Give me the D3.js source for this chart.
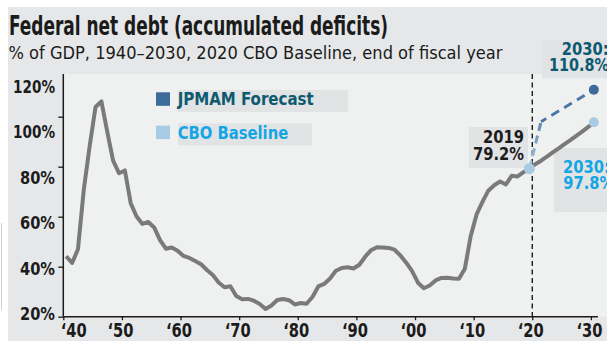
<!DOCTYPE html>
<html><head><meta charset="utf-8">
<script src="https://cdn.jsdelivr.net/npm/d3@7"></script>
<style>
body{margin:0;background:#fff}
svg{display:block}
text{font-family:"Liberation Sans Narrow","DejaVu Sans Condensed","Roboto Condensed",Roboto,"Liberation Sans",sans-serif;}
</style>
</head><body>
<svg id="c" width="607" height="341"></svg>
<script>
// ---------- data ----------
const title = "Federal net debt (accumulated deficits)";
const subtitle = "% of GDP, 1940\u20132030, 2020 CBO Baseline, end of fiscal year";
const histStart = 1940;
const histDebt = [44.2, 41.5, 47.0, 70.9, 88.3, 103.9, 106.1, 93.9, 82.4, 77.4,
  78.5, 65.4, 60.1, 57.1, 57.9, 55.7, 50.6, 47.2, 47.7, 46.4,
  44.3, 43.5, 42.3, 41.0, 38.7, 36.7, 33.7, 31.8, 32.2, 28.3,
  27.0, 27.1, 26.4, 25.1, 23.1, 24.5, 26.7, 27.1, 26.6, 24.9,
  25.5, 25.2, 27.9, 32.1, 33.1, 35.3, 38.4, 39.5, 39.8, 39.3,
  40.8, 44.0, 46.6, 47.8, 47.7, 47.5, 46.8, 44.5, 41.6, 38.2,
  33.6, 31.4, 32.5, 34.5, 35.5, 35.6, 35.3, 35.2, 39.2, 52.3,
  60.9, 65.9, 70.4, 72.6, 74.1, 72.9, 76.4, 76.1, 77.8, 79.2];
const cboYears = [2019, 2020, 2021, 2022, 2023, 2024, 2025, 2026, 2027, 2028, 2029, 2030];
const cboDebt  = [79.2, 81.0, 82.4, 84.0, 85.7, 87.3, 89.0, 90.6, 92.3, 94.0, 95.8, 97.8];
const jpYears = [2019, 2021, 2030];
const jpDebt  = [79.2, 98.0, 110.8];
const xTicks = [1940, 1950, 1960, 1970, 1980, 1990, 2000, 2010, 2020, 2030];
const yTicks = [20, 40, 60, 80, 100, 120];
const legendNames = ["JPMAM Forecast", "CBO Baseline"];

// ---------- setup ----------
const svg = d3.select("#c");
const C = {
  panel: "#e6e7e8", plot: "#eff1f1", box: "#e2e3e5",
  line: "#7a7a7a", jp: "#3d6c9b", jpText: "#0d5a70", cbo: "#a8cbe4", cboText: "#14a6e4", ink: "#1b1b1b"
};
const x = d3.scaleLinear().domain([1940, 2030]).range([63.3, 590.9]);
const y = d3.scaleLinear().domain([20, 120]).range([316.7, 66.7]);
const labelY = d3.scaleLinear().domain([20, 120]).range([313.3, 86]);
const plotTop = 74, plotBottom = y(20);
const fx = yr => x(yr + 0.5); // end of fiscal year

function fit(sel, w){ sel.attr("textLength", w).attr("lengthAdjust", "spacingAndGlyphs"); return sel; }

// backgrounds
svg.append("rect").attr("x", 8).attr("y", 7).attr("width", 599).attr("height", 334).attr("fill", C.panel);
svg.append("line").attr("x1", 1.5).attr("x2", 1.5).attr("y1", 223).attr("y2", 310).attr("stroke", "#d0d0d0");
svg.append("rect").attr("x", x(1940)).attr("y", plotTop).attr("width", 607 - x(1940)).attr("height", plotBottom - plotTop).attr("fill", C.plot);

// title
fit(svg.append("text").attr("x", 9).attr("y", 35).attr("font-size", 26).attr("font-weight", 700)
  .attr("fill", C.ink).text(title), 379);
fit(svg.append("text").attr("x", 8.5).attr("y", 59).attr("font-size", 18).attr("fill", C.ink).text(subtitle), 494);

// annotation boxes
svg.append("rect").attr("x", 542).attr("y", 40).attr("width", 65).attr("height", 38.5).attr("fill", C.box);
svg.append("rect").attr("x", 554).attr("y", 148).attr("width", 53).attr("height", 64).attr("fill", C.box);
svg.append("rect").attr("x", 469).attr("y", 127).attr("width", 59).attr("height", 41).attr("fill", C.box);

// legend
const legBoxW = [170, 134];
legendNames.forEach((name, i) => {
  const top = 90 + i * 33.3;
  svg.append("rect").attr("x", 178).attr("y", top).attr("width", legBoxW[i]).attr("height", 22).attr("fill", C.box);
  svg.append("rect").attr("x", 156).attr("y", top + 2.3).attr("width", 14).attr("height", 13.5)
    .attr("fill", i === 0 ? C.jp : C.cbo);
  fit(svg.append("text").attr("x", 177.7).attr("y", top + 15.3).attr("font-size", 18.5).attr("font-weight", 700)
    .attr("fill", i === 0 ? C.jpText : C.cboText).text(name), i === 0 ? 136 : 110.5);
});

// axes
const yAxis = svg.append("g").attr("transform", `translate(${x(1940)},0)`)
  .call(d3.axisLeft(y).tickValues(yTicks.filter(v => y(v) >= plotTop)).tickSize(5).tickFormat(""));
yAxis.select(".domain").remove();
yAxis.selectAll(".tick line").attr("stroke", C.ink).attr("stroke-width", 1.3);
svg.append("line").attr("x1", x(1940)).attr("x2", x(1940)).attr("y1", plotTop).attr("y2", plotBottom)
  .attr("stroke", C.ink).attr("stroke-width", 1.5);
svg.append("g").selectAll("text").data(yTicks).join("text")
  .attr("x", 55).attr("y", d => labelY(d)).attr("dy", "0.36em").attr("text-anchor", "end")
  .attr("font-size", 18.5).attr("font-weight", 700).attr("fill", C.ink)
  .text(d => d + "%")
  .each(function(d){ fit(d3.select(this), d >= 100 ? 42 : 35); });

const xAxis = svg.append("g").attr("transform", `translate(0,${plotBottom})`)
  .call(d3.axisBottom(x).tickValues(xTicks).tickSize(3.5).tickFormat(""));
xAxis.select(".domain").remove();
xAxis.selectAll(".tick line").attr("stroke", C.ink).attr("stroke-width", 1.3);
svg.append("line").attr("x1", x(1940)).attr("x2", x(2031.2)).attr("y1", plotBottom).attr("y2", plotBottom)
  .attr("stroke", C.ink).attr("stroke-width", 1.5);
svg.append("g").selectAll("text").data(xTicks).join("text")
  .attr("x", (d, i) => i === 0 ? x(d) - 2.5 : x(d) - 1.5)
  .attr("y", 336.7).attr("text-anchor", (d, i) => i === 0 ? "start" : "middle")
  .attr("font-size", 19).attr("font-weight", 700).attr("fill", C.ink)
  .text(d => "\u2018" + String(d % 100).padStart(2, "0"))
  .each(function(){ fit(d3.select(this), 26); });

// 2020 divider
svg.append("line").attr("x1", x(2020)).attr("x2", x(2020)).attr("y1", plotTop).attr("y2", plotBottom)
  .attr("stroke", C.ink).attr("stroke-width", 1.4).attr("stroke-dasharray", "5,3.5");

// lines
const line = d3.line().x(d => fx(d[0])).y(d => y(d[1])).curve(d3.curveLinear);
const hist = histDebt.map((v, i) => [histStart + i, v]);
const cbo = cboYears.map((yr, i) => [yr, cboDebt[i]]);
const jp = jpYears.map((yr, i) => [yr, jpDebt[i]]);

svg.append("path").attr("d", line(hist.concat(cbo.slice(1)))).attr("fill", "none")
  .attr("stroke", C.line).attr("stroke-width", 4).attr("stroke-linejoin", "round");

const grad = svg.append("defs").append("linearGradient").attr("id", "jpg")
  .attr("gradientUnits", "userSpaceOnUse")
  .attr("x1", 0).attr("y1", y(79.2)).attr("x2", 0).attr("y2", y(98));
grad.append("stop").attr("offset", 0).attr("stop-color", "#a9c8e0");
grad.append("stop").attr("offset", 1).attr("stop-color", "#5a86b0");

svg.append("path").attr("d", line(jp.slice(0, 2))).attr("fill", "none")
  .attr("stroke", "url(#jpg)").attr("stroke-width", 3).attr("stroke-dasharray", "8,5");
svg.append("path").attr("d", line(jp.slice(1))).attr("fill", "none")
  .attr("stroke", "#4a78a5").attr("stroke-width", 3).attr("stroke-dasharray", "9,6").attr("stroke-dashoffset", 3);

// points
svg.append("circle").attr("cx", fx(2019)).attr("cy", y(79.2)).attr("r", 5.5).attr("fill", C.cbo);
svg.append("circle").attr("cx", fx(2030)).attr("cy", y(cboDebt[cboDebt.length - 1])).attr("r", 5).attr("fill", C.cbo);
svg.append("circle").attr("cx", fx(2030)).attr("cy", y(jpDebt[jpDebt.length - 1])).attr("r", 5).attr("fill", C.jp);

// annotations
const ann = (xp, yp, txt, col, w, anchor) => fit(svg.append("text").attr("x", xp).attr("y", yp)
  .attr("font-size", 18.5).attr("font-weight", 700).attr("fill", col).attr("text-anchor", anchor || "start").text(txt), w);
ann(524, 142.7, "2019", C.ink, 41, "end");
ann(524, 160, histDebt[histDebt.length - 1].toFixed(1) + "%", C.ink, 51, "end");
ann(561.7, 55, "2030:", C.jpText, 47);
ann(549, 70.7, jpDebt[jpDebt.length - 1].toFixed(1) + "%", C.jpText, 60);
ann(563, 173.3, "2030:", C.cboText, 47);
ann(563.3, 189.3, cboDebt[cboDebt.length - 1].toFixed(1) + "%", C.cboText, 51);
</script>
</body></html>
